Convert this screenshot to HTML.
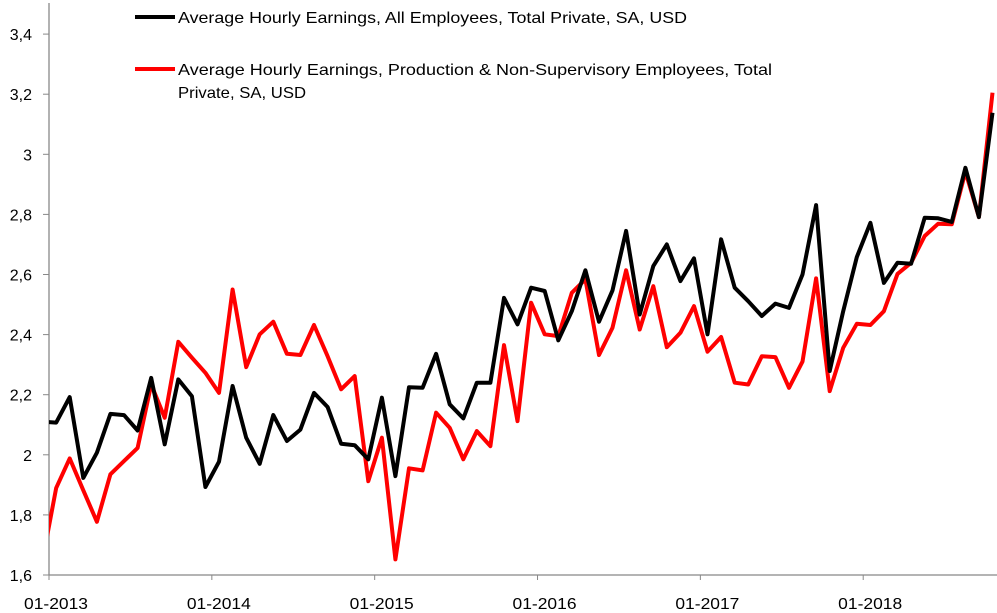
<!DOCTYPE html>
<html><head><meta charset="utf-8"><style>
html,body{margin:0;padding:0;background:#fff;}
svg{display:block;font-family:"Liberation Sans",sans-serif;}
</style></head><body>
<svg id="chart" width="997" height="613" viewBox="0 0 997 613" xmlns="http://www.w3.org/2000/svg">
<defs><clipPath id="plotclip"><rect x="49" y="0" width="948" height="613"/></clipPath></defs>
<g id="axes"></g>
<g id="series" clip-path="url(#plotclip)"></g>
<g id="legend">
  <line x1="135" y1="17" x2="175" y2="17" stroke="#000" stroke-width="4"/>
  <text x="178" y="23" font-size="16" fill="#000" textLength="509" lengthAdjust="spacingAndGlyphs">Average Hourly Earnings, All Employees, Total Private, SA, USD</text>
  <line x1="135" y1="69" x2="175" y2="69" stroke="#f00" stroke-width="4"/>
  <text x="178" y="75" font-size="16" fill="#000" textLength="594" lengthAdjust="spacingAndGlyphs">Average Hourly Earnings, Production &amp; Non-Supervisory Employees, Total</text>
  <text x="178" y="98" font-size="16" fill="#000" textLength="128" lengthAdjust="spacingAndGlyphs">Private, SA, USD</text>
</g>
</svg>
<script>
const yTicks = [1.6, 1.8, 2.0, 2.2, 2.4, 2.6, 2.8, 3.0, 3.2, 3.4];
const yTickLabels = ["1,6","1,8","2","2,2","2,4","2,6","2,8","3","3,2","3,4"];
const xTickLabels = ["01-2013","01-2014","01-2015","01-2016","01-2017","01-2018"];
const allEmployees = [2.11,2.107,2.192,1.923,2.007,2.136,2.132,2.081,2.256,2.035,2.251,2.195,1.893,1.977,2.229,2.057,1.970,2.132,2.046,2.084,2.206,2.159,2.037,2.032,1.985,2.190,1.929,2.225,2.223,2.336,2.168,2.121,2.240,2.240,2.522,2.434,2.556,2.545,2.381,2.478,2.614,2.443,2.547,2.745,2.467,2.628,2.700,2.578,2.654,2.401,2.717,2.556,2.511,2.462,2.503,2.489,2.600,2.831,2.279,2.478,2.658,2.772,2.572,2.639,2.636,2.789,2.787,2.775,2.955,2.791,3.138];
const production = [1.65,1.890,1.988,1.882,1.777,1.935,1.979,2.023,2.234,2.123,2.376,2.323,2.273,2.206,2.550,2.292,2.401,2.443,2.336,2.332,2.432,2.328,2.218,2.262,1.912,2.057,1.652,1.955,1.948,2.140,2.090,1.985,2.079,2.029,2.365,2.112,2.506,2.401,2.395,2.539,2.584,2.332,2.423,2.614,2.417,2.561,2.358,2.406,2.495,2.343,2.392,2.240,2.234,2.328,2.325,2.223,2.310,2.587,2.212,2.356,2.436,2.432,2.478,2.602,2.639,2.728,2.769,2.767,2.942,2.791,3.205];

const NS="http://www.w3.org/2000/svg";
const y0=575, pxPerUnit=300.5, yMin=1.6;
function yScale(v){return y0-(v-yMin)*pxPerUnit;}
const monthPx=13.57, firstX=42.6;
function xScale(i){return firstX+monthPx*i;}
function tickX(j){return 49+j*12*monthPx;}

const axes=document.getElementById('axes');
const yAxis=document.createElementNS(NS,'line');
yAxis.setAttribute('x1',49);yAxis.setAttribute('x2',49);yAxis.setAttribute('y1',3);yAxis.setAttribute('y2',y0);
yAxis.setAttribute('stroke','#888');yAxis.setAttribute('stroke-width','1.3');


axes.appendChild(yAxis);
const xAxis=document.createElementNS(NS,'line');
xAxis.setAttribute('x1',49);xAxis.setAttribute('x2',997);xAxis.setAttribute('y1',y0);xAxis.setAttribute('y2',y0);
xAxis.setAttribute('stroke','#888');xAxis.setAttribute('stroke-width','1.3');


axes.appendChild(xAxis);

yTicks.forEach((v,k)=>{
  const y=yScale(v);
  const t=document.createElementNS(NS,'line');
  t.setAttribute('x1',43);t.setAttribute('x2',49);t.setAttribute('y1',y);t.setAttribute('y2',y);
  t.setAttribute('stroke','#888');
  
  
  axes.appendChild(t);
  const l=document.createElementNS(NS,'text');
  l.setAttribute('x',32);l.setAttribute('y',y+6);l.setAttribute('text-anchor','end');l.setAttribute('font-size','16');
  l.textContent=yTickLabels[k];
  
  
  axes.appendChild(l);
});
xTickLabels.forEach((s,j)=>{
  const x=tickX(j);
  const t=document.createElementNS(NS,'line');
  t.setAttribute('x1',x);t.setAttribute('x2',x);t.setAttribute('y1',y0);t.setAttribute('y2',y0+5);
  t.setAttribute('stroke','#888');
  
  
  axes.appendChild(t);
  const l=document.createElementNS(NS,'text');
  l.setAttribute('x',x+7);l.setAttribute('y',609);l.setAttribute('text-anchor','middle');l.setAttribute('font-size','16');
  l.setAttribute('textLength','64');l.setAttribute('lengthAdjust','spacingAndGlyphs');
  l.textContent=s;
  
  
  axes.appendChild(l);
});

const series=document.getElementById('series');
function drawLine(vals,color,name){
  const p=document.createElementNS(NS,'polyline');
  p.setAttribute('points',vals.map((v,i)=>xScale(i).toFixed(1)+','+yScale(v).toFixed(1)).join(' '));
  p.setAttribute('fill','none');p.setAttribute('stroke',color);p.setAttribute('stroke-width','4');
  p.setAttribute('stroke-linejoin','round');
  
  
  series.appendChild(p);
}
drawLine(production,'#ff0000','production-line');
drawLine(allEmployees,'#000000','all-employees-line');
</script>
</body></html>
